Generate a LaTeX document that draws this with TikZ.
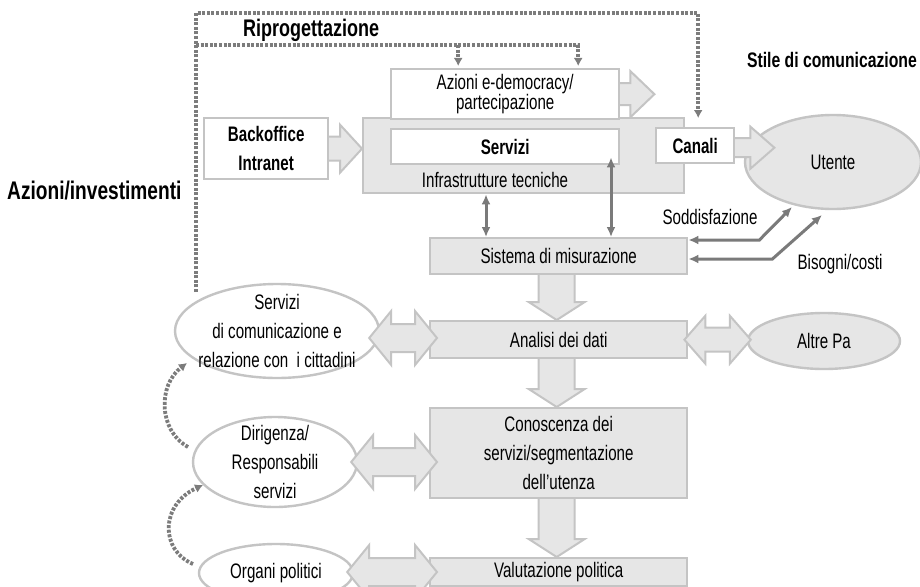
\documentclass[tikz,border=0pt]{standalone}
\usepackage{fontspec}
\setmainfont{Liberation Sans}[FakeStretch=0.72]
\newfontfamily\secfont{Liberation Sans}[FakeStretch=0.75]
\usetikzlibrary{calc,shapes.geometric,arrows.meta}
\definecolor{bord}{HTML}{C4C4C4}
\definecolor{boxfill}{HTML}{E6E6E6}
\definecolor{darkarr}{HTML}{7A7A7A}
\definecolor{dotc}{HTML}{7C7C7C}
\pgfdeclarelayer{back}
\pgfdeclarelayer{mid}
\pgfdeclarelayer{front}
\pgfsetlayers{back,mid,main,front}
\tikzset{
 every node/.style={font=\fontsize{21}{29}\selectfont, inner sep=0pt, align=center},
 graybox/.style={draw=bord, fill=boxfill, line width=2.4pt, rectangle, anchor=north west},
 whitebox/.style={draw=bord, fill=white, line width=2.4pt, rectangle, anchor=north west},
 grayell/.style={draw=bord, fill=boxfill, line width=2.4pt, ellipse},
 whiteell/.style={draw=bord, fill=white, line width=2.4pt, ellipse},
 boldtxt/.style={font=\bfseries\fontsize{21}{29}\selectfont},
 blk/.style={draw=bord, fill=boxfill, line width=2pt, line join=miter},
 measarrow/.style={draw=darkarr, line width=3pt, {Latex[length=10pt,width=9pt]}-{Latex[length=10pt,width=9pt]}},
 dotline/.style={draw=dotc, line width=3.8pt, dash pattern=on 3pt off 1.6pt},
 dotarrow/.style={dotline, -{Latex[length=8pt,width=9pt]}},
 sectlabel/.style={font=\secfont\bfseries\fontsize{24}{28}\selectfont},
}
% block arrows
\newcommand{\BlkDown}[2]{\draw[blk] let \p1=(#1), \p2=(#2) in
 (\x1-18pt,\y1) -- (\x1-18pt,\y2+18pt) -- (\x1-28pt,\y2+18pt) -- (\x1,\y2) -- (\x1+28pt,\y2+18pt) -- (\x1+18pt,\y2+18pt) -- (\x1+18pt,\y1) -- cycle;}
\newcommand{\BlkRight}[5]{\draw[blk] let \p1=(#1), \p2=(#2) in
 (\x1,\y1+#3) -- (\x2-#5,\y1+#3) -- (\x2-#5,\y1+#4) -- (\x2,\y1) -- (\x2-#5,\y1-#4) -- (\x2-#5,\y1-#3) -- (\x1,\y1-#3) -- cycle;}
\newcommand{\BlkDouble}[5]{\draw[blk] let \p1=(#1), \p2=(#2) in
 (\x1,\y1) -- (\x1+#5,\y1+#4) -- (\x1+#5,\y1+#3) -- (\x2-#5,\y1+#3) -- (\x2-#5,\y1+#4) -- (\x2,\y1) -- (\x2-#5,\y1-#4) -- (\x2-#5,\y1-#3) -- (\x1+#5,\y1-#3) -- (\x1+#5,\y1-#4) -- cycle;}
\begin{document}
\begin{tikzpicture}[x=1pt,y=-1pt]
\useasboundingbox (0,0) rectangle (920,586);
\begin{pgfonlayer}{back}
 \fill[white] (0,0) rectangle (920,586);
 \node[grayell, minimum width=176, minimum height=94] (ut) at (833,162) {Utente};
\end{pgfonlayer}

% boxes
\node[whitebox, boldtxt, minimum width=124, minimum height=61] (back) at (203,117) {Backoffice\\Intranet};
\node[graybox, minimum width=321, minimum height=75] (infra) at (362,117) {};
\node[anchor=base] (infratxt) at (495,187) {Infrastrutture tecniche};
\node[whitebox, minimum width=228, minimum height=50, font=\fontsize{21}{20}\selectfont] (azioni) at (390,68) {Azioni e-democracy/\\partecipazione};
\node[whitebox, boldtxt, minimum width=228, minimum height=35] (serv) at (390,128) {Servizi};
\node[whitebox, boldtxt, minimum width=78, minimum height=35] (canali) at (655,127) {Canali};
\node[graybox, minimum width=257, minimum height=36] (sis) at (429,237) {Sistema di misurazione};
\node[graybox, minimum width=257, minimum height=37] (ana) at (429,320) {Analisi dei dati};
\node[graybox, minimum width=257, minimum height=90] (con) at (429,407) {Conoscenza dei\\servizi/segmentazione\\dell’utenza};
\node[graybox, minimum width=257, minimum height=28] (val) at (429,557) {Valutazione politica};
\node[grayell, minimum width=152, minimum height=56] (altre) at (824,341) {Altre Pa};
\node[whiteell, minimum width=204, minimum height=94, label={center:Servizi\\di comunicazione e\\relazione con\ \ i cittadini}] (servell) at (277,331) {};
\node[whiteell, minimum width=164, minimum height=90, label={center:Dirigenza/\\Responsabili\\servizi}] (dir) at (275,462) {};
\node[whiteell, minimum width=154, minimum height=58] (org) at (276,573) {Organi politici};

% labels
\node[sectlabel, anchor=base west] (ripro) at (243,37) {Riprogettazione};
\node[sectlabel, font=\secfont\bfseries\fontsize{21}{24}\selectfont, anchor=base east] (stile) at (917,67) {Stile di comunicazione};
\node[sectlabel, font=\secfont\bfseries\fontsize{25.5}{28}\selectfont, anchor=base west] (azinv) at (7,199) {Azioni/investimenti};
\node[anchor=base] (sodd) at (710,224) {Soddisfazione};
\node[anchor=base] (bis) at (840,269) {Bisogni/costi};

% block arrows under boxes
\begin{pgfonlayer}{mid}
 \BlkRight{$(azioni.east)+(-6,0)$}{$(azioni.east)+(34,0)$}{11pt}{23pt}{24pt}
 \BlkRight{$(back.east)+(-4,0)$}{$(infra.west |- back.east)$}{12pt}{24pt}{22pt}
 \BlkRight{$(canali.east)+(-4,2)$}{$(canali.east)+(39,2)$}{9.5pt}{21pt}{24pt}
 \BlkDown{$(sis.south)+(-2,-3)$}{$(ana.north)+(-2,0)$}
 \BlkDown{$(ana.south)+(-2,-3)$}{$(con.north)+(-2,0)$}
 \BlkDown{$(con.south)+(-2,-3)$}{$(val.north)+(-2,0)$}
\end{pgfonlayer}

\begin{pgfonlayer}{front}
 \BlkDouble{$(servell.east)+(-11,7)$}{$(ana.west)+(8,0)$}{14pt}{27pt}{22pt}
 \BlkDouble{$(dir.east)+(-7,0)$}{$(con.west)+(8,0)$}{14pt}{27pt}{22pt}
 \BlkDouble{$(org.east)+(-7,-1)$}{$(val.west)+(8,0)$}{14pt}{27pt}{22pt}
 \BlkDouble{$(ana.east)+(-4,0)$}{$(altre.west)+(4,0)$}{12pt}{24pt}{21pt}

 % measurement arrows
 \coordinate (m1) at ($(sis.north west)+(57,0)$);
 \draw[measarrow] (m1) -- (m1 |- infra.south);
 \coordinate (m2) at ($(sis.north west)+(182,0)$);
 \draw[measarrow] (m2) -- ($(m2 |- serv.south)+(0,-8)$);
 \coordinate (sodtip) at ($(ut.center)+(-41,45)$);
 \coordinate (bistip) at ($(ut.center)+(-11,53)$);
 \draw[measarrow] ($(sis.north east)+(0,3)$) -- ++(71,0) -- (sodtip);
 \draw[measarrow] ($(sis.north east)+(0,22)$) -- ++(84,0) -- (bistip);

 % dotted feedback lines
 \coordinate (fl) at (196,292);
 \coordinate (fr2) at (196,45);
 \draw[dotarrow] (fl) |- ($(canali.north)+(3,-114)$) -- ($(canali.north)+(3,-9)$);
 \draw[dotarrow] (fr2) -| ($(azioni.north)+(73,-2)$);
 \draw[dotarrow] ($(azioni.north)+(-47,-23)$) -- ($(azioni.north)+(-47,-2)$);
 \coordinate (c1s) at ($(dir.center)+(-87,-15)$);
 \coordinate (c1e) at ($(servell.center)+(-90,32)$);
 \draw[dotarrow] (c1s) .. controls (158,430) and (158,385) .. (c1e);
 \coordinate (c2s) at ($(org.center)+(-83,-9)$);
 \coordinate (c2e) at ($(dir.center)+(-72,23)$);
 \draw[dotarrow] (c2s) .. controls (160,550) and (160,505) .. (c2e);
\end{pgfonlayer}
\end{tikzpicture}
\end{document}
